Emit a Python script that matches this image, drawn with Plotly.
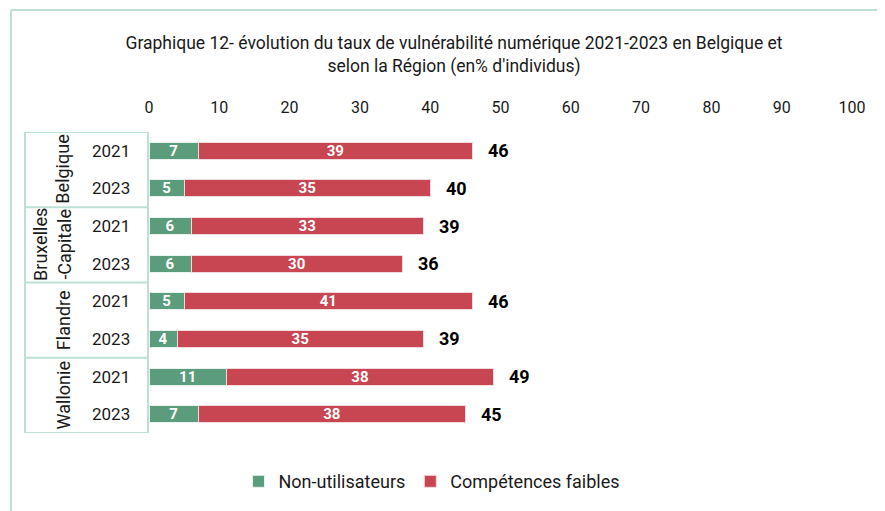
import plotly.graph_objects as go

groups = ["Belgique", "Belgique", "Bruxelles<br>-Capitale", "Bruxelles<br>-Capitale",
          "Flandre", "Flandre", "Wallonie", "Wallonie"]
years = ["2021", "2023", "2021", "2023", "2021", "2023", "2021", "2023"]
non_utilisateurs = [7, 5, 6, 6, 5, 4, 11, 7]
competences_faibles = [39, 35, 33, 30, 41, 35, 38, 38]
totals = [46, 40, 39, 36, 46, 39, 49, 45]

GREEN = "#5A9C7C"
RED = "#C84552"
LINE = "#BEDFD5"
TXT = "#1A1A1A"

pos = list(range(len(years)))

fig = go.Figure()
fig.add_trace(go.Bar(
    y=pos, x=non_utilisateurs, orientation="h", name="Non-utilisateurs",
    marker=dict(color=GREEN, line=dict(color="#E8F2EE", width=1)),
    text=[f"<b>{v}</b>" for v in non_utilisateurs], textposition="inside",
    insidetextanchor="middle", textangle=0, constraintext="none",
    textfont=dict(color="white", size=15, family="Roboto"),
))
fig.add_trace(go.Bar(
    y=pos, x=competences_faibles, orientation="h", name="Compétences faibles",
    marker=dict(color=RED, line=dict(color="#F2DADD", width=1)),
    text=[f"<b>{v}</b>" for v in competences_faibles], textposition="inside",
    insidetextanchor="middle", textangle=0, constraintext="none",
    textfont=dict(color="white", size=15, family="Roboto"),
))

# totals
for p, t in zip(pos, totals):
    fig.add_annotation(x=t, y=p, xref="x", yref="y", text=f"<b>{t}</b>",
                       showarrow=False, xanchor="left", xshift=14,
                       font=dict(size=18, color="black", family="Roboto"))

# year labels
for p, yr in zip(pos, years):
    fig.add_annotation(x=(111 - 149) / 703, y=p, xref="paper", yref="y", text=yr,
                       showarrow=False, xanchor="center",
                       font=dict(size=17, color=TXT, family="Roboto"))

# group labels & separators
XL = (25 - 149) / 703
XR = (148 - 149) / 703
i = 0
while i < len(groups):
    j = i
    while j + 1 < len(groups) and groups[j + 1] == groups[i]:
        j += 1
    two_lines = "<br>" in groups[i]
    xg = (52 - 149) / 703 if two_lines else (63 - 149) / 703
    fig.add_annotation(x=xg, y=(i + j) / 2, xref="paper", yref="y",
                       text=groups[i], textangle=-90,
                       showarrow=False, xanchor="center", yanchor="middle",
                       font=dict(size=18, color=TXT, family="Roboto"))
    fig.add_shape(type="line", xref="paper", yref="y", x0=XL, x1=XR,
                  y0=i - 0.5, y1=i - 0.5, line=dict(color=LINE, width=2))
    i = j + 1
fig.add_shape(type="line", xref="paper", yref="y", x0=XL, x1=XR,
              y0=len(groups) - 0.5, y1=len(groups) - 0.5, line=dict(color=LINE, width=2))
fig.add_shape(type="line", xref="paper", yref="y", x0=XL, x1=XL,
              y0=-0.5, y1=len(groups) - 0.5, line=dict(color=LINE, width=2))
fig.add_shape(type="line", xref="paper", yref="y", x0=XR, x1=XR,
              y0=-0.5, y1=len(groups) - 0.5, line=dict(color=LINE, width=2))

# outer frame
fig.add_shape(type="line", xref="paper", yref="paper", x0=(11 - 149) / 703, x1=2,
              y0=(433 - 10) / 301, y1=(433 - 10) / 301, line=dict(color=LINE, width=2))
fig.add_shape(type="line", xref="paper", yref="paper", x0=(11 - 149) / 703, x1=(11 - 149) / 703,
              y0=(433 - 10) / 301, y1=-2, line=dict(color=LINE, width=2))

fig.update_layout(
    width=885, height=511,
    margin=dict(l=141, r=41, t=124, b=86, autoexpand=False),
    paper_bgcolor="white", plot_bgcolor="white",
    barmode="stack", bargap=0.55,
    title=dict(text="Graphique 12- évolution du taux de vulnérabilité numérique 2021-2023 en Belgique et<br>selon la Région (en% d'individus)",
               x=446 / 885, xanchor="center", y=1 - 41 / 511, yanchor="top",
               font=dict(size=17.5, color=TXT, family="Roboto")),
    xaxis=dict(range=[0, 100], dtick=10, side="top", showgrid=False, zeroline=False,
               showline=False, ticks="outside", ticklen=12, tickcolor="rgba(0,0,0,0)",
               tickfont=dict(size=16, color=TXT, family="Roboto")),
    yaxis=dict(range=[len(groups) - 0.5, -0.5], showticklabels=False, showgrid=False,
               zeroline=False, showline=False),
    legend=dict(orientation="h", x=(432 - 149) / 703, xanchor="center", y=-0.1, yanchor="top",
                font=dict(size=18, color=TXT, family="Roboto"), traceorder="normal",
                itemwidth=30),
    showlegend=True,
)

fig.write_html("out.html")
